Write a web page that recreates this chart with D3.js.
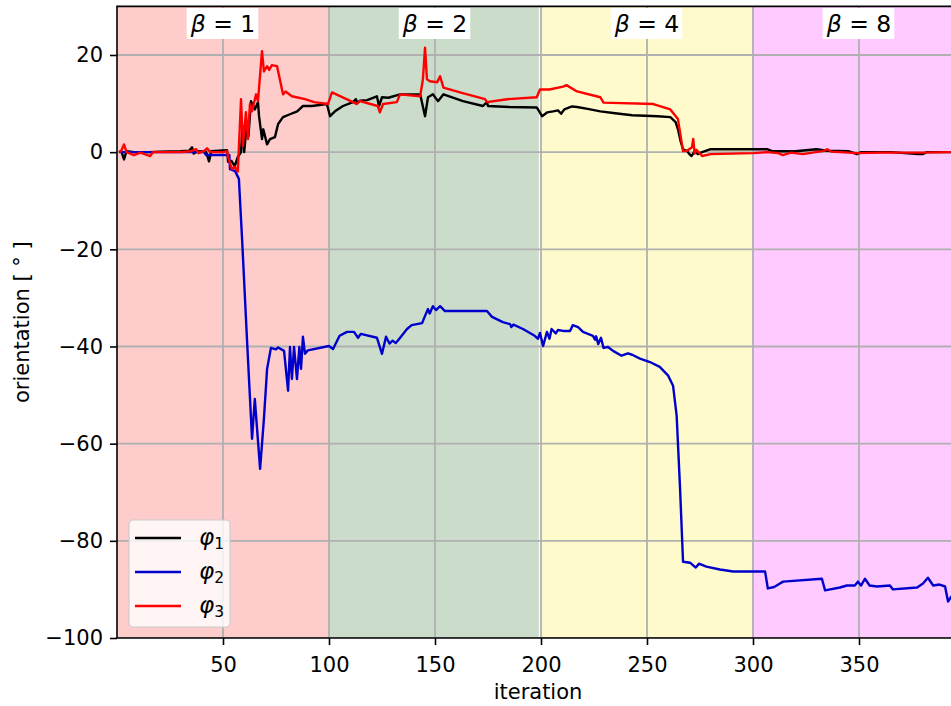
<!DOCTYPE html>
<html>
<head>
<meta charset="utf-8">
<script src="https://cdn.jsdelivr.net/npm/d3@7"></script>
<style>
  body { margin: 0; background: #fff; }
  svg { display: block; font-family: "DejaVu Sans", sans-serif; }
</style>
</head>
<body>
<svg width="951" height="706"></svg>
<script>
// phases (background bands)
const phaseStart = [0, 100, 200, 299.5];
const phaseEnd = [100, 199, 299.5, 400];
const phaseColors = ["#ffcccc", "#ccdccb", "#fffacb", "#ffcaff"];
const phaseMid = [50, 150, 250, 350];
const phaseBeta = ["1", "2", "4", "8"];

const xTicks = [50, 100, 150, 200, 250, 300, 350];
const yTicks = [20, 0, -20, -40, -60, -80, -100];

// [iteration, orientation in degrees]
const phi1 = [[1,0],[2,0.2],[3.3,-1.5],[4.5,0.2],[8,0],[15,0],[20,0.1],[30,0.2],[34,0.3],[35.4,1.0],[36.2,-0.3],[38,0.2],[42,0.1],[43.4,-1.9],[44.5,0.2],[48,0.3],[51.9,0.4],[52.4,-2],[54,-1.8],[55.5,-2.9],[57,-1],[58.5,0],[59.2,5.4],[60,0],[61.3,6.2],[62,3.3],[63.2,10.5],[65,8.8],[66.5,10.3],[67,7.4],[68.4,2.7],[69,4.7],[70.8,1.6],[72.2,2.7],[74.5,3.1],[76,5.8],[78.3,7.2],[81.6,7.8],[85,8.4],[87.7,9.5],[92,9.5],[99,9.9],[100.5,7.4],[102.8,8.4],[106.6,9.5],[111.3,10.3],[112.7,10.9],[113.3,10.1],[114.6,10.6],[118,10.7],[122.6,11.5],[123.6,9.5],[125,11.3],[128,11.2],[133.5,11.9],[143,11.9],[145.3,7.4],[146.7,11.3],[149,11.9],[151.4,10.5],[154,11.9],[163.2,10.5],[172.6,9.5],[174.5,10.3],[175,9.5],[185,9.3],[198,9.2],[200.5,7.4],[203,8.2],[205.7,8.4],[208,8.6],[209.5,7.9],[211,8.8],[214.6,9.4],[217,9.3],[222,8.9],[228,8.4],[235,8.0],[243,7.6],[255,7.4],[261,7.2],[263.5,6.2],[264.6,4.7],[266,2],[267,0.6],[269,0.2],[270,-0.4],[271,-0.8],[272.5,0.2],[274,-0.4],[276,0],[280,0.6],[290,0.6],[300,0.6],[306.6,0.6],[309,0.2],[320,0.2],[330,0.6],[335,0.3],[345,0.2],[349,-0.4],[351,0],[365,0],[378,-0.4],[380,-0.4],[382,0],[393,0],[396,0]];

const phi2 = [[1,0],[10,0],[20,0],[30,0],[41,0],[42,-0.6],[53,-0.6],[53.3,-3.5],[55.7,-3.9],[57.5,-5.5],[59,-17.9],[61.3,-38.4],[63.7,-59],[65,-50.8],[67.5,-65.2],[69.3,-54.9],[70.8,-44.6],[72.6,-40.3],[75,-40.6],[76,-40.2],[78.8,-40.9],[80.7,-49.1],[81.6,-40.1],[82.5,-46.7],[83.5,-40.1],[84.9,-46.7],[86,-40.1],[86.8,-44.6],[87.7,-38],[88.7,-41.5],[90,-40.8],[100,-39.9],[101.9,-40.5],[105,-37.8],[108.5,-37],[111.8,-37],[113.7,-38.2],[115,-37.4],[122.6,-38.2],[125,-41.5],[126.9,-38],[128.5,-39.4],[130,-38.8],[131.5,-39.3],[133,-38.5],[136.8,-36.4],[139,-35.6],[143.9,-35.2],[145.3,-33.7],[146.7,-32.3],[147.5,-33.2],[149,-31.7],[150.5,-32.5],[152.4,-31.7],[154.7,-32.7],[166.5,-32.7],[174.5,-32.7],[176.9,-33.9],[182,-35],[185.4,-35.4],[186,-36],[187,-35.5],[191.5,-36.4],[197,-37.8],[198.6,-38.4],[199.5,-37.2],[201,-39.9],[202.8,-37],[204,-38.4],[205,-36.4],[207,-37.3],[208,-36.6],[210.4,-36.8],[213.7,-36.8],[215,-35.6],[217.5,-36],[219.8,-37],[224.5,-37.8],[225.5,-38.6],[226,-37.9],[227,-39.5],[228.3,-38.2],[229.5,-40.3],[231.6,-40.1],[234,-40.9],[238,-41.9],[241,-41.4],[243,-41.7],[246.7,-42.5],[251.4,-43.2],[256,-44.2],[260,-46],[262.3,-48.1],[264,-54.3],[265.6,-69.3],[267,-84.3],[270.3,-84.5],[273,-85.5],[274.5,-84.7],[278,-85.3],[284.4,-85.9],[290.6,-86.3],[305.7,-86.3],[307,-89.8],[310,-89.5],[312.7,-88.8],[314.2,-88.4],[332.5,-87.8],[334,-90.2],[341,-89.6],[344.3,-89.2],[348,-89.2],[349.5,-88.4],[351,-89.2],[352.8,-87.8],[355,-89.2],[358.5,-89.4],[364.6,-89.2],[366,-90],[377.4,-89.6],[380.2,-88.8],[382.5,-87.6],[385,-89.2],[388,-89],[390.6,-89.4],[392,-92.5],[393.5,-91.5],[396,-91.8]];

const phi3 = [[1,0],[2,0.3],[3.3,1.6],[4.5,0],[8,-0.6],[11,-0.1],[15.6,-0.8],[17,0],[30,0],[35,0.2],[37.3,0.6],[38.5,-0.2],[41,0.2],[42.5,0.8],[44,0],[50,0],[51.9,0.2],[52.4,-1],[54.2,-3.5],[55.5,-3],[57,-4],[58.5,10.9],[59.4,1.2],[60.8,8.2],[61.8,2.7],[62.7,9.9],[63.7,8.4],[65.6,11.9],[66.5,10.5],[68.4,20.8],[69.3,16.6],[70.8,17.7],[71.8,16.9],[73,17.9],[75.5,17.7],[78.3,11.9],[79.5,12.5],[82.5,11.5],[88.7,10.9],[93,10.3],[99.5,9.9],[101.4,12.3],[111.3,10.3],[113,9.9],[114.6,10.5],[123,9.5],[124,8.2],[125.5,9.9],[132,10.3],[133.5,11.9],[143,11.5],[144.3,15],[145.3,21.5],[146.2,15],[147.6,14.6],[151,14.4],[152.4,15.6],[154,13.3],[161.8,12.3],[173.6,10.9],[174.5,10.3],[184,10.9],[198,11.3],[199.5,12.9],[204,12.9],[210.4,13.5],[212,13.8],[217,12.5],[228,11.3],[229.5,10.2],[253,9.9],[261,8.8],[264.6,6.8],[267,0.2],[269,0.3],[271.2,1],[271.8,2.7],[272.5,-0.3],[273.3,0.5],[276,-0.8],[280,-0.4],[300,-0.2],[306.6,0],[312,-0.2],[314,-0.6],[318,-0.1],[323.6,-0.4],[328,-0.1],[333,0.2],[335,0.6],[337,0.1],[349,-0.2],[360,-0.1],[380,-0.1],[393,0],[396,0]];

const seriesNames = ["1", "2", "3"];
const seriesColors = ["#000000", "#0000cc", "#ff0000"];
const seriesData = [phi1, phi2, phi3];

const svg = d3.select("svg");
const x = d3.scaleLinear().domain([0, 400]).range([117, 965]);
const y = d3.scaleLinear().domain([-100, 30]).range([638, 6.4]);

svg.append("clipPath").attr("id", "plot")
  .append("rect")
  .attr("x", x(0)).attr("y", y(30))
  .attr("width", x(400) - x(0)).attr("height", y(-100) - y(30));

const plot = svg.append("g").attr("clip-path", "url(#plot)");

// background bands
plot.selectAll("rect.band")
  .data(phaseStart)
  .join("rect")
  .attr("class", "band")
  .attr("x", d => x(d))
  .attr("y", y(30))
  .attr("width", (d, i) => x(phaseEnd[i]) - x(d))
  .attr("height", y(-100) - y(30))
  .attr("fill", (d, i) => phaseColors[i]);

// grid
plot.selectAll("line.gx")
  .data(xTicks)
  .join("line")
  .attr("x1", d => x(d)).attr("x2", d => x(d))
  .attr("y1", y(30)).attr("y2", y(-100))
  .attr("stroke", "#b0b0b0").attr("stroke-width", 1.8);
plot.selectAll("line.gy")
  .data(yTicks)
  .join("line")
  .attr("x1", x(0)).attr("x2", x(400))
  .attr("y1", d => y(d)).attr("y2", d => y(d))
  .attr("stroke", "#b0b0b0").attr("stroke-width", 1.8);

// lines
const line = d3.line().x(d => x(d[0])).y(d => y(d[1]));
plot.selectAll("path.series")
  .data(seriesData)
  .join("path")
  .attr("class", "series")
  .attr("d", line)
  .attr("fill", "none")
  .attr("stroke", (d, i) => seriesColors[i])
  .attr("stroke-width", 2.4)
  .attr("stroke-linejoin", "round");

// beta labels
phaseMid.forEach((m, i) => {
  const g = svg.append("g");
  const t = g.append("text")
    .attr("x", x(m))
    .attr("y", 32)
    .attr("text-anchor", "middle")
    .attr("font-size", 23.5);
  t.append("tspan").attr("font-style", "italic").text("β");
  t.append("tspan").text(" = " + phaseBeta[i]);
  const b = t.node().getBBox();
  g.insert("rect", "text")
    .attr("x", b.x - 3).attr("y", 8)
    .attr("width", b.width + 6).attr("height", 31)
    .attr("fill", "#fff");
});

// axes
const xAxis = svg.append("g")
  .attr("transform", `translate(0,${y(-100)})`)
  .call(d3.axisBottom(x).tickValues(xTicks).tickSize(7).tickPadding(12).tickFormat(d3.format("d")));
const yAxis = svg.append("g")
  .attr("transform", `translate(${x(0)},0)`)
  .call(d3.axisLeft(y).tickValues(yTicks).tickSize(7).tickPadding(7).tickFormat(d3.format("d")));
[xAxis, yAxis].forEach(a => {
  a.select(".domain").remove();
  a.selectAll("line").attr("stroke", "#000").attr("stroke-width", 1.6);
  a.selectAll("text").attr("font-size", 21).attr("font-family", "DejaVu Sans").attr("fill", "#000");
});

// spines
svg.append("line").attr("x1", x(0)).attr("x2", x(0)).attr("y1", y(30)).attr("y2", y(-100))
  .attr("stroke", "#000").attr("stroke-width", 1.6);
svg.append("line").attr("x1", x(0) - 0.8).attr("x2", x(400)).attr("y1", y(-100)).attr("y2", y(-100))
  .attr("stroke", "#000").attr("stroke-width", 1.6);
svg.append("line").attr("x1", x(0) - 0.8).attr("x2", x(400)).attr("y1", y(30)).attr("y2", y(30))
  .attr("stroke", "#000").attr("stroke-width", 1.6);

// axis labels
svg.append("text")
  .attr("x", 538).attr("y", 699)
  .attr("text-anchor", "middle").attr("font-size", 21)
  .text("iteration");
svg.append("text")
  .attr("transform", `translate(29,${(y(30) + y(-100)) / 2}) rotate(-90)`)
  .attr("text-anchor", "middle").attr("font-size", 21)
  .text("orientation [ ° ]");

// legend
const legend = svg.append("g").attr("transform", "translate(129,520)");
legend.append("rect")
  .attr("width", 101).attr("height", 107).attr("rx", 4)
  .attr("fill", "#fff").attr("fill-opacity", 0.8)
  .attr("stroke", "#cccccc").attr("stroke-width", 1.2);
seriesNames.forEach((n, i) => {
  const ly = 18 + i * 34;
  legend.append("line")
    .attr("x1", 6).attr("x2", 52).attr("y1", ly).attr("y2", ly)
    .attr("stroke", seriesColors[i]).attr("stroke-width", 2.4);
  const t = legend.append("text")
    .attr("x", 70).attr("y", ly + 7).attr("font-size", 23);
  t.append("tspan").attr("font-style", "italic").text("φ");
  t.append("tspan").attr("font-size", 15.5).attr("dy", 4).text(n);
});
</script>
</body>
</html>
